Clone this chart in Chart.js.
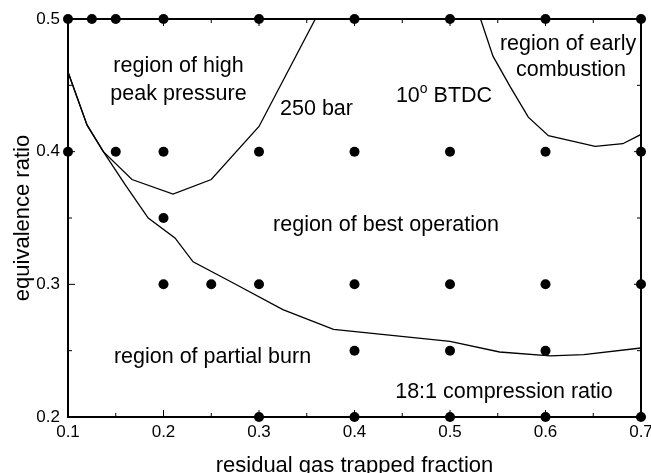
<!DOCTYPE html>
<html>
<head>
<meta charset="utf-8">
<script src="https://cdn.jsdelivr.net/npm/chart.js@4.4.1/dist/chart.umd.min.js"></script>
<style>
  html, body { margin: 0; padding: 0; background: #fff; }
  #chart { display: block; }
</style>
</head>
<body>
<canvas id="chart" width="651" height="473"></canvas>
<script>
// Operating points that were run, one row per equivalence ratio
const phiRows = [0.5, 0.4, 0.35, 0.3, 0.25, 0.2];
const residualRows = [
    [0.1, 0.125, 0.15, 0.2, 0.3, 0.4, 0.5, 0.6, 0.7],
    [0.1, 0.15, 0.2, 0.3, 0.4, 0.5, 0.6, 0.7],
    [0.2],
    [0.2, 0.25, 0.3, 0.4, 0.5, 0.6, 0.7],
    [0.4, 0.5, 0.6],
    [0.3, 0.4, 0.5, 0.6, 0.7]
];

// 250 bar peak pressure limit
const peakX = [0.1, 0.12, 0.137, 0.167, 0.21, 0.25, 0.30, 0.359];
const peakY = [0.46, 0.42, 0.40, 0.379, 0.368, 0.379, 0.419, 0.5];

// partial burn limit
const burnX = [0.1, 0.12, 0.137, 0.16, 0.184, 0.212, 0.231, 0.273, 0.325, 0.378, 0.5, 0.552, 0.605, 0.64, 0.7];
const burnY = [0.46, 0.42, 0.40, 0.375, 0.35, 0.335, 0.317, 0.301, 0.281, 0.266, 0.257, 0.249, 0.246, 0.247, 0.252];

// 10 deg BTDC early combustion limit
const earlyX = [0.532, 0.545, 0.563, 0.582, 0.603, 0.652, 0.681, 0.7];
const earlyY = [0.5, 0.472, 0.449, 0.426, 0.412, 0.404, 0.406, 0.413];

// tick labels
const xTicks = [0.1, 0.2, 0.3, 0.4, 0.5, 0.6, 0.7];
const yTicks = [0.2, 0.3, 0.4, 0.5];

// region labels (text, x, baseline y in data units)
const notes = [
    ['region of high', 0.2157, 0.4601],
    ['peak pressure', 0.2157, 0.4390],
    ['250 bar', 0.3602, 0.4277],
    ['region of early', 0.6236, 0.4766],
    ['combustion', 0.6267, 0.4570],
    ['region of best operation', 0.433, 0.3402],
    ['region of partial burn', 0.2513, 0.2408],
    ['18:1 compression ratio', 0.5565, 0.2145]
];

const FONT = '"Liberation Sans", Arial, Helvetica, sans-serif';
Chart.defaults.font.family = FONT;
Chart.defaults.color = '#000';

const toPoints = (xs, ys) => xs.map((v, i) => ({ x: v, y: ys[i] }));

const dots = [];
phiRows.forEach((phi, r) => {
    residualRows[r].forEach(f => dots.push({ x: f, y: phi }));
});

// frame with inward ticks on all four sides
const framePlugin = {
    id: 'frame',
    beforeDatasetsDraw(chart) {
        const { ctx, chartArea: a, scales: { x, y } } = chart;
        ctx.save();
        ctx.strokeStyle = '#000';
        ctx.lineWidth = 1;
        ctx.beginPath();
        for (let i = 0; i <= 12; i++) {
            const px = x.getPixelForValue(0.1 + i * 0.05);
            const len = i % 2 ? 4 : 7;
            ctx.moveTo(px, a.bottom); ctx.lineTo(px, a.bottom - len);
            ctx.moveTo(px, a.top); ctx.lineTo(px, a.top + len);
        }
        for (let i = 0; i <= 6; i++) {
            const py = y.getPixelForValue(0.2 + i * 0.05);
            const len = i % 2 ? 4 : 7;
            ctx.moveTo(a.left, py); ctx.lineTo(a.left + len, py);
            ctx.moveTo(a.right, py); ctx.lineTo(a.right - len, py);
        }
        ctx.stroke();
        ctx.lineWidth = 2;
        ctx.strokeRect(a.left, a.top, a.right - a.left, a.bottom - a.top);
        ctx.restore();
    }
};

const notesPlugin = {
    id: 'notes',
    afterDatasetsDraw(chart) {
        const { ctx, scales: { x, y } } = chart;
        ctx.save();
        ctx.fillStyle = '#000';
        ctx.textBaseline = 'alphabetic';
        ctx.font = '21.5px ' + FONT;
        ctx.textAlign = 'center';
        notes.forEach(([t, vx, vy]) => ctx.fillText(t, x.getPixelForValue(vx), y.getPixelForValue(vy)));

        // "10° BTDC" with a raised small o
        const cx = x.getPixelForValue(0.4937);
        const by = y.getPixelForValue(0.4375);
        ctx.textAlign = 'left';
        const w1 = ctx.measureText('10').width;
        const w3 = ctx.measureText(' BTDC').width;
        ctx.font = '14px ' + FONT;
        const w2 = ctx.measureText('o').width;
        let px = cx - (w1 + w2 + w3) / 2;
        ctx.font = '21.5px ' + FONT;
        ctx.fillText('10', px, by);
        px += w1;
        ctx.font = '14px ' + FONT;
        ctx.fillText('o', px, by - 9);
        px += w2;
        ctx.font = '21.5px ' + FONT;
        ctx.fillText(' BTDC', px, by);
        ctx.restore();
    }
};

const lineStyle = {
    showLine: true,
    pointRadius: 0,
    borderColor: '#000',
    borderWidth: 1.3,
    tension: 0,
    fill: false
};

new Chart(document.getElementById('chart'), {
    type: 'scatter',
    data: {
        datasets: [
            {
                label: 'operating points',
                data: dots,
                pointRadius: 5,
                pointBackgroundColor: '#000',
                pointBorderWidth: 0,
                clip: false
            },
            { label: '250 bar', data: toPoints(peakX, peakY), ...lineStyle },
            { label: 'partial burn', data: toPoints(burnX, burnY), ...lineStyle },
            { label: '10 BTDC', data: toPoints(earlyX, earlyY), ...lineStyle }
        ]
    },
    options: {
        responsive: false,
        devicePixelRatio: 1,
        animation: false,
        layout: { padding: { top: 19, right: 10, left: 0, bottom: 0 } },
        plugins: {
            legend: { display: false },
            tooltip: { enabled: false }
        },
        scales: {
            x: {
                type: 'linear',
                min: 0.1,
                max: 0.7,
                grid: { display: false, drawTicks: false },
                border: { display: false },
                afterBuildTicks: s => { s.ticks = xTicks.map(v => ({ value: v })); },
                afterFit: s => { s.height = 56; s.paddingLeft = 0; s.paddingRight = 0; },
                ticks: {
                    padding: 5,
                    font: { size: 17 },
                    callback: v => v.toFixed(1)
                },
                title: {
                    display: true,
                    text: 'residual gas trapped fraction',
                    font: { size: 22 },
                    padding: { top: 0, bottom: -6 }
                }
            },
            y: {
                type: 'linear',
                min: 0.2,
                max: 0.5,
                grid: { display: false, drawTicks: false },
                border: { display: false },
                afterBuildTicks: s => { s.ticks = yTicks.map(v => ({ value: v })); },
                afterFit: s => { s.width = 68; s.paddingTop = 0; s.paddingBottom = 0; },
                ticks: {
                    padding: 8,
                    font: { size: 17 },
                    callback: v => v.toFixed(1)
                },
                title: {
                    display: true,
                    text: 'equivalence ratio',
                    font: { size: 22 },
                    padding: { top: 10, bottom: 0 }
                }
            }
        }
    },
    plugins: [framePlugin, notesPlugin]
});
</script>
</body>
</html>
